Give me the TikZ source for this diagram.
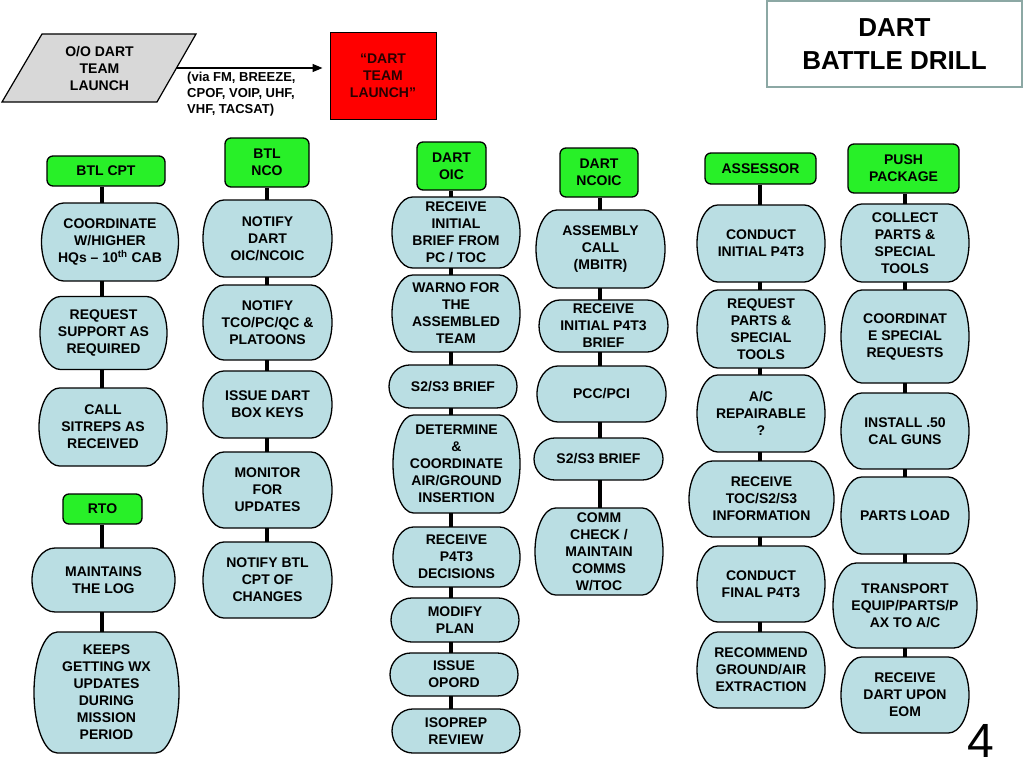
\documentclass[tikz,border=0pt]{standalone}
\usepackage{fontspec}
\setmainfont{Liberation Sans}
\usetikzlibrary{arrows.meta}
\definecolor{actfill}{RGB}{186,222,227}
\definecolor{rolefill}{RGB}{40,240,40}
\definecolor{launchtext}{RGB}{40,0,0}
\definecolor{titleline}{RGB}{140,168,164}
\definecolor{oofill}{RGB}{216,216,216}
% step box: name, x, y, width, height, text
\newcommand{\actbox}[6]{%
  \path[actshape]
    ({#2-#4/2+0.161*#4},{#3-#5/2}) -- ({#2+#4/2-0.161*#4},{#3-#5/2})
    arc[start angle=-90,end angle=90,x radius={0.161*#4},y radius={#5/2}]
    -- ({#2-#4/2+0.161*#4},{#3+#5/2})
    arc[start angle=90,end angle=270,x radius={0.161*#4},y radius={#5/2}]
    -- cycle;
  \node[acttext,minimum width=#4pt,minimum height=#5pt] (#1) at (#2,#3) {#6};%
}
% green role header: name, x, y, width, height, text
\newcommand{\rolebox}[6]{%
  \node[role,minimum width=#4pt,minimum height=#5pt] (#1) at (#2,#3) {#6};%
}

\begin{document}
\begin{tikzpicture}[x=1pt,y=-1pt,
    boxfont/.style={font=\bfseries\fontsize{14}{17}\selectfont},
    actshape/.style={fill=actfill,draw=black,line width=1.3pt},
    acttext/.style={boxfont,align=center,inner sep=0pt},
    role/.style={boxfont,align=center,inner sep=0pt,fill=rolefill,draw=black,
      line width=1.3pt,rounded corners=6pt},
    link/.style={line width=4pt},
    sendline/.style={line width=1.4pt,-{Triangle[length=10pt,width=8pt]},shorten >=7pt}]
  \useasboundingbox (0,0) rectangle (1024,768);

  % title and launch order
  \node[boxfont,font=\bfseries\fontsize{26}{33}\selectfont,align=center,draw=titleline,
    line width=1.8pt,minimum width=255pt,minimum height=86pt] (title) at (894.5,44)
    {DART\\BATTLE DRILL};
  \filldraw[fill=oofill,draw=black,line width=1.2pt]
    (42,34) -- (196,34) -- (157,102) -- (2,102) -- cycle;
  \node[acttext,minimum width=155pt] (oo) at (99.5,68) {O/O DART\\TEAM\\LAUNCH};
  \node[boxfont,text=launchtext,align=center,fill=red,draw=black,line width=1pt,
    minimum width=106pt,minimum height=86pt] (launch) at (383,76)
    {\textquotedblleft DART\\TEAM\\LAUNCH\textquotedblright};
  \draw[sendline] (oo.east) -- (oo.east -| launch.west);
  \node[font=\bfseries\fontsize{13}{16}\selectfont,align=left,anchor=west,inner sep=0pt]
    (via) at (187,94) {(via FM, BREEZE,\\CPOF, VOIP, UHF,\\VHF, TACSAT)};

  % BTL CPT and RTO
  \rolebox{cpt}{106}{171}{118}{30}{BTL CPT}
  \actbox{coord}{110}{242}{137}{78}{COORDINATE\\W/HIGHER\\HQs \textendash{} 10\textsuperscript{th} CAB}
  \actbox{support}{103.5}{333}{127}{73}{REQUEST\\SUPPORT AS\\REQUIRED}
  \actbox{sitrep}{103}{427}{128}{78}{CALL\\SITREPS AS\\RECEIVED}
  \rolebox{rto}{102.5}{509}{79}{30}{RTO}
  \actbox{log}{103.5}{580}{143}{64}{MAINTAINS\\THE LOG}
  \actbox{wx}{106.5}{692.5}{145}{121}{KEEPS\\GETTING WX\\UPDATES\\DURING\\MISSION\\PERIOD}

  % BTL NCO
  \rolebox{nco}{267}{162.5}{84}{49}{BTL\\NCO}
  \actbox{notoic}{267.5}{238.5}{129}{77}{NOTIFY\\DART\\OIC/NCOIC}
  \actbox{nottco}{267.5}{322.5}{129}{75}{NOTIFY\\TCO/PC/QC \&\\PLATOONS}
  \actbox{keys}{267.5}{404.5}{129}{67}{ISSUE DART\\BOX KEYS}
  \actbox{monitor}{267.5}{490}{129}{76}{MONITOR\\FOR\\UPDATES}
  \actbox{notcpt}{267.5}{580}{129}{76}{NOTIFY BTL\\CPT OF\\CHANGES}

  % DART OIC
  \rolebox{oic}{451.5}{166}{69}{48}{DART\\OIC}
  \actbox{brief}{456}{232.5}{128}{71}{RECEIVE\\INITIAL\\BRIEF FROM\\PC / TOC}
  \actbox{warno}{456}{313.5}{128}{77}{WARNO FOR\\THE\\ASSEMBLED\\TEAM}
  \actbox{oicsbrief}{453}{386.5}{128}{43}{S2/S3 BRIEF}
  \actbox{insert}{456.5}{464}{127}{98}{DETERMINE\\\&\\COORDINATE\\AIR/GROUND\\INSERTION}
  \actbox{decide}{456.5}{557}{127}{60}{RECEIVE\\P4T3\\DECISIONS}
  \actbox{modify}{455}{620}{128}{44}{MODIFY\\PLAN}
  \actbox{opord}{454}{674.5}{128}{43}{ISSUE\\OPORD}
  \actbox{isoprep}{456}{731}{128}{44}{ISOPREP\\REVIEW}

  % DART NCOIC
  \rolebox{ncoic}{599}{172.5}{78}{49}{DART\\NCOIC}
  \actbox{assembly}{600.5}{249}{129}{78}{ASSEMBLY\\CALL\\(MBITR)}
  \actbox{initbrief}{603.5}{326}{129}{52}{RECEIVE\\INITIAL P4T3\\BRIEF}
  \actbox{pcc}{601.5}{394}{129}{56}{PCC/PCI}
  \actbox{ncoicsbrief}{598.5}{459}{129}{42}{S2/S3 BRIEF}
  \actbox{comms}{599}{551.5}{128}{87}{COMM\\CHECK /\\MAINTAIN\\COMMS\\W/TOC}

  % ASSESSOR
  \rolebox{assessor}{760.5}{168.5}{111}{31}{ASSESSOR}
  \actbox{initp}{761}{243.5}{128}{77}{CONDUCT\\INITIAL P4T3}
  \actbox{reqparts}{761}{329}{128}{78}{REQUEST\\PARTS \&\\SPECIAL\\TOOLS}
  \actbox{repair}{761}{413.5}{128}{77}{A/C\\REPAIRABLE\\?}
  \actbox{tocinfo}{761.5}{499}{145}{76}{RECEIVE\\TOC/S2/S3\\INFORMATION}
  \actbox{finalp}{761}{584}{128}{76}{CONDUCT\\FINAL P4T3}
  \actbox{extract}{761}{670}{128}{76}{RECOMMEND\\GROUND/AIR\\EXTRACTION}

  % PUSH PACKAGE
  \rolebox{push}{903.5}{168.5}{111}{49}{PUSH\\PACKAGE}
  \actbox{collect}{905}{243}{128}{78}{COLLECT\\PARTS \&\\SPECIAL\\TOOLS}
  \actbox{special}{905}{336.5}{128}{93}{COORDINAT\\E SPECIAL\\REQUESTS}
  \actbox{guns}{905}{431}{128}{76}{INSTALL .50\\CAL GUNS}
  \actbox{load}{905}{515.5}{128}{77}{PARTS LOAD}
  \actbox{transport}{905}{605.5}{144}{85}{TRANSPORT\\EQUIP/PARTS/P\\AX TO A/C}
  \actbox{eom}{905}{695}{128}{76}{RECEIVE\\DART UPON\\EOM}

  % column links
  \coordinate (colA) at (102,0);
  \coordinate (colB) at (267,0);
  \coordinate (colC) at (451,0);
  \coordinate (colD) at (600,0);
  \coordinate (colE) at (760,0);
  \coordinate (colF) at (905,0);
  \foreach \c/\a/\b in {colA/cpt/coord,colA/coord/support,colA/support/sitrep,
      colA/rto/log,colA/log/wx,
      colB/nco/notoic,colB/notoic/nottco,colB/nottco/keys,colB/keys/monitor,
      colB/monitor/notcpt,
      colC/oic/brief,colC/brief/warno,colC/warno/oicsbrief,colC/oicsbrief/insert,
      colC/insert/decide,colC/decide/modify,colC/modify/opord,colC/opord/isoprep,
      colD/ncoic/assembly,colD/assembly/initbrief,colD/initbrief/pcc,
      colD/pcc/ncoicsbrief,colD/ncoicsbrief/comms,
      colE/assessor/initp,colE/initp/reqparts,colE/reqparts/repair,
      colE/repair/tocinfo,colE/tocinfo/finalp,colE/finalp/extract,
      colF/push/collect,colF/collect/special,colF/special/guns,colF/guns/load,
      colF/load/transport,colF/transport/eom}
    \draw[link] (\a.south -| \c) -- (\b.north -| \c);

  \node[font=\fontsize{48}{48}\selectfont,inner sep=0pt] (pagenum) at (981,741) {4};
\end{tikzpicture}
\end{document}
